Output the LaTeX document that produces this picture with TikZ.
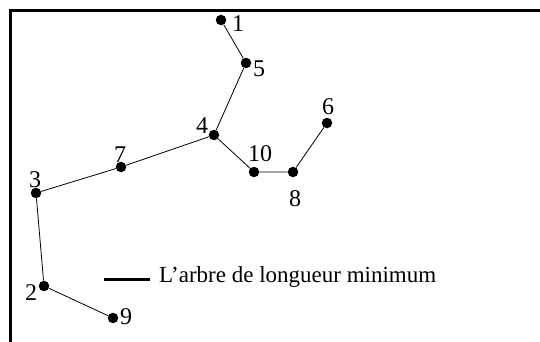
\documentclass[tikz,border=0pt]{standalone}
\usepackage{fontspec}
\setmainfont{Liberation Serif}
\usepackage{tikz}
\usetikzlibrary{positioning}

\begin{document}
\begin{tikzpicture}[x=1pt, y=-1pt,
  dot/.style={circle, fill, inner sep=0pt, minimum size=10.5pt},
  lab/.style={inner sep=0pt, font=\fontsize{24}{28}\selectfont},
  edge/.style={line width=0.8pt}]

  \useasboundingbox (0,0) rectangle (540,342);

  % Cadre
  \draw[line width=3pt] (10,342) -- (10,11) -- (540,11);

  % Sommets
  \node[dot] (n1) at (221,20) {};
  \node[dot] (n5) at (246,63) {};
  \node[dot] (n4) at (214,135) {};
  \node[dot] (n10) at (254,172) {};
  \node[dot] (n8) at (293,172) {};
  \node[dot] (n6) at (327,123) {};
  \node[dot] (n7) at (121,167) {};
  \node[dot] (n3) at (36,193) {};
  \node[dot] (n2) at (44,286) {};
  \node[dot] (n9) at (113,318) {};

  % Etiquettes
  \node[lab] (l1) at (238,24) {1};
  \node[lab] (l5) at (259,69) {5};
  \node[lab] (l4) at (202,126) {4};
  \node[lab] (l10) at (260,154) {10};
  \node[lab] (l8) at (295,199) {8};
  \node[lab] (l6) at (328,107) {6};
  \node[lab] (l7) at (120,155) {7};
  \node[lab] (l3) at (35,180) {3};
  \node[lab] (l2) at (31,293) {2};
  \node[lab] (l9) at (126,317) {9};

  % Arbre
  \draw[edge] (n1) -- (n5) -- (n4) -- (n7) -- (n3) -- (n2) -- (n9);
  \draw[edge] (n4) -- (n10) -- (n8) -- (n6);

  % Legende
  \coordinate (lega) at (104,279);
  \coordinate (legb) at (150,279);
  \draw[line width=3pt] (lega) -- (legb);
  \node[lab, anchor=west, font=\fontsize{23}{27}\selectfont] (leg) at (159,277) {L’arbre de longueur minimum};
\end{tikzpicture}
\end{document}
